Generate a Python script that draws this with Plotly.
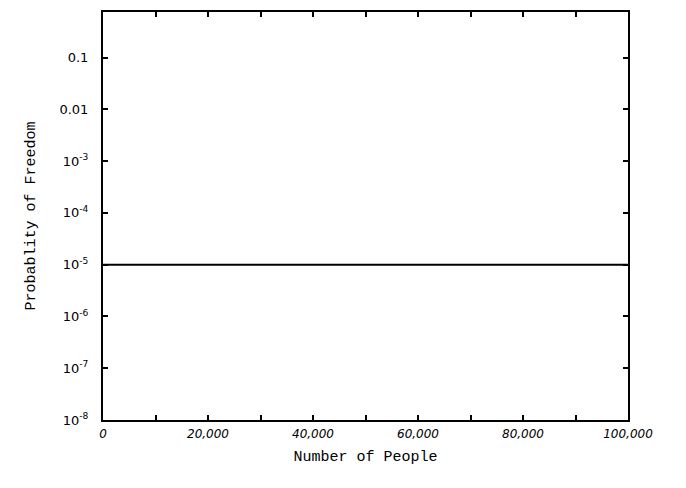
import plotly.graph_objects as go

people = [0, 100000]
prob = [1e-5, 1e-5]

x_ticks = [0, 10000, 20000, 30000, 40000, 50000, 60000, 70000, 80000, 90000, 100000]
x_labels = ["0", "", "20,000", "", "40,000", "", "60,000", "", "80,000", "", "100,000"]
y_ticks = [1e-1, 1e-2, 1e-3, 1e-4, 1e-5, 1e-6, 1e-7, 1e-8]
y_labels = ["0.1", "0.01", "10<sup>-3</sup>", "10<sup>-4</sup>", "10<sup>-5</sup>",
            "10<sup>-6</sup>", "10<sup>-7</sup>", "10<sup>-8</sup>"]

fig = go.Figure()
fig.add_trace(go.Scatter(x=people, y=prob, mode="lines",
                         line=dict(color="black", width=2), showlegend=False))

fig.update_layout(
    width=686, height=488,
    margin=dict(l=103, r=58, t=10, b=68),
    paper_bgcolor="white", plot_bgcolor="white",
    font=dict(family="DejaVu Sans", color="black", size=12),
    xaxis=dict(range=[0, 100000], tickvals=x_ticks, ticktext=x_labels,
               ticks="inside", ticklen=5, tickwidth=1.5, tickcolor="black",
               showline=True, linecolor="black", linewidth=2, mirror="ticks",
               showgrid=False, zeroline=False, ticklabelstandoff=2,
               tickfont=dict(family="DejaVu Sans", size=12, style="italic"),
               title=dict(text="Number of People", standoff=10,
                          font=dict(family="Liberation Mono", size=15))),
    yaxis=dict(type="log", range=[-8, -0.12], tickvals=y_ticks, ticktext=y_labels,
               ticks="inside", ticklen=5, tickwidth=1.5, tickcolor="black",
               showline=True, linecolor="black", linewidth=2, mirror="ticks",
               showgrid=False, zeroline=False, ticklabelstandoff=10,
               tickfont=dict(family="DejaVu Sans", size=13),
               title=dict(text="Probablity of Freedom", standoff=20,
                          font=dict(family="Liberation Mono", size=15))),
)

fig.write_html("out.html")
